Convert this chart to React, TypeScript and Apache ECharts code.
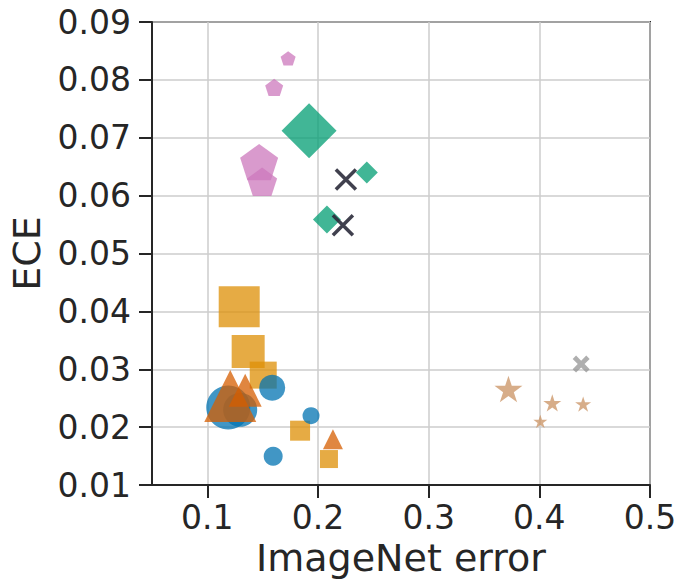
import React, { useEffect, useRef } from "react";
import * as echarts from "echarts";

// ImageNet error (x), ECE (y), marker size per model family
const circleX = [0.1189, 0.1297, 0.1586, 0.1937, 0.1595];
const circleY = [0.0234, 0.023, 0.0268, 0.022, 0.015];
const circleS = [44, 34, 26, 17, 19];

const squareX = [0.1288, 0.1369, 0.1505, 0.1838, 0.2099];
const squareY = [0.0408, 0.0331, 0.029, 0.0194, 0.0145];
const squareS = [41, 33, 27, 20, 18];

const triangleX = [0.1207, 0.1342, 0.2135];
const triangleY = [0.0254, 0.0264, 0.0179];
const triangleS = [52, 33, 20];

const diamondX = [0.1919, 0.2441, 0.2081];
const diamondY = [0.0712, 0.064, 0.0559];
const diamondS = [55, 22, 28];

const pentagonX = [0.173, 0.1604, 0.1468, 0.1495];
const pentagonY = [0.0837, 0.0787, 0.0658, 0.0624];
const pentagonS = [15, 18, 38, 30];

const crossX = [0.2252, 0.2225];
const crossY = [0.0628, 0.0549];
const crossS = [20, 20];

const starX = [0.3721, 0.4117, 0.4396, 0.4009];
const starY = [0.0266, 0.0242, 0.024, 0.021];
const starS = [28, 18, 16, 14];

const thickXX = [0.4378];
const thickXY = [0.0309];
const thickXS = [17];

const xTicks = [0.1, 0.2, 0.3, 0.4, 0.5];

const PENTAGON =
  "path://M0,-1L0.951,-0.309L0.588,0.809L-0.588,0.809L-0.951,-0.309Z";
function starPath() {
  const pts: string[] = [];
  for (let i = 0; i < 10; i++) {
    const r = i % 2 === 0 ? 1 : 0.382;
    const a = -Math.PI / 2 + (i * Math.PI) / 5;
    pts.push((r * Math.cos(a)).toFixed(3) + "," + (r * Math.sin(a)).toFixed(3));
  }
  return "path://M" + pts.join("L") + "Z";
}
const STAR = starPath();
const THIN_X = "path://M-1,-1L1,1M1,-1L-1,1";
const THICK_X =
  "path://M-1,-0.6L-0.6,-1L0,-0.4L0.6,-1L1,-0.6L0.4,0L1,0.6L0.6,1L0,0.4L-0.6,1L-1,0.6L-0.4,0Z";

function pts(xs: number[], ys: number[], ss: number[]) {
  return xs.map((x, i) => [x, ys[i], ss[i]]);
}

export default function App() {
  const ref = useRef<HTMLDivElement>(null);
  useEffect(() => {
    if (!ref.current) return;
    const chart = echarts.init(ref.current, null, { renderer: "svg" });
    const font = "DejaVu Sans";
    const ink = "#262626";
    const mk = (
      name: string,
      data: number[][],
      symbol: string,
      color: string,
      opacity = 0.75,
      extra: any = {}
    ) => ({
      name,
      type: "scatter",
      data,
      symbol,
      symbolKeepAspect: true,
      symbolSize: (v: number[]) => v[2],
      itemStyle: { color, opacity, ...extra },
      emphasis: { disabled: true },
    });
    chart.setOption({
      animation: false,
      grid: {
        left: 152,
        top: 22,
        width: 498,
        height: 467,
        show: true,
        borderColor: ink,
        borderWidth: 2,
      },
      xAxis: {
        type: "value",
        min: 0.05,
        max: 0.5,
        name: "ImageNet error",
        nameLocation: "middle",
        nameGap: 50,
        nameTextStyle: { fontFamily: font, fontSize: 38, color: ink },
        axisLine: { show: true, lineStyle: { color: ink, width: 2 } },
        axisTick: {
          show: true,
          length: 13,
          lineStyle: { color: ink, width: 2 },
          customValues: xTicks,
        },
        axisLabel: {
          fontFamily: font,
          fontSize: 33,
          color: ink,
          margin: 16,
          customValues: xTicks,
          formatter: (v: number) => String(Math.round(v * 10) / 10),
        },
        splitLine: { show: true, lineStyle: { color: "#cccccc", width: 1.5 } },
      },
      yAxis: {
        type: "value",
        min: 0.01,
        max: 0.09,
        interval: 0.01,
        name: "ECE",
        nameLocation: "middle",
        nameGap: 106,
        nameTextStyle: { fontFamily: font, fontSize: 38, color: ink },
        axisLine: { show: true, lineStyle: { color: ink, width: 2 } },
        axisTick: { show: true, length: 13, lineStyle: { color: ink, width: 2 } },
        axisLabel: {
          fontFamily: font,
          fontSize: 33,
          color: ink,
          margin: 21,
          formatter: (v: number) => v.toFixed(2),
        },
        splitLine: { show: true, lineStyle: { color: "#cccccc", width: 1.5 } },
      },
      series: [
        mk("squares", pts(squareX, squareY, squareS), "rect", "#DE8F05"),
        mk("circles", pts(circleX, circleY, circleS), "circle", "#0173B2"),
        mk("triangles", pts(triangleX, triangleY, triangleS), "triangle", "#D55E00"),
        mk("diamonds", pts(diamondX, diamondY, diamondS), "diamond", "#029E73"),
        mk("pentagons", pts(pentagonX, pentagonY, pentagonS), PENTAGON, "#CC78BC"),
        mk("cross", pts(crossX, crossY, crossS), THIN_X, "transparent", 0.9, {
          borderColor: "#2b2b3b",
          borderWidth: 3.5,
        }),
        mk("stars", pts(starX, starY, starS), STAR, "#CA9161"),
        mk("thickx", pts(thickXX, thickXY, thickXS), THICK_X, "#949494"),
      ],
    });
    return () => chart.dispose();
  }, []);
  return (
    <div
      ref={ref}
      style={{ position: "absolute", left: 0, top: 0, width: 681, height: 582 }}
    />
  );
}
